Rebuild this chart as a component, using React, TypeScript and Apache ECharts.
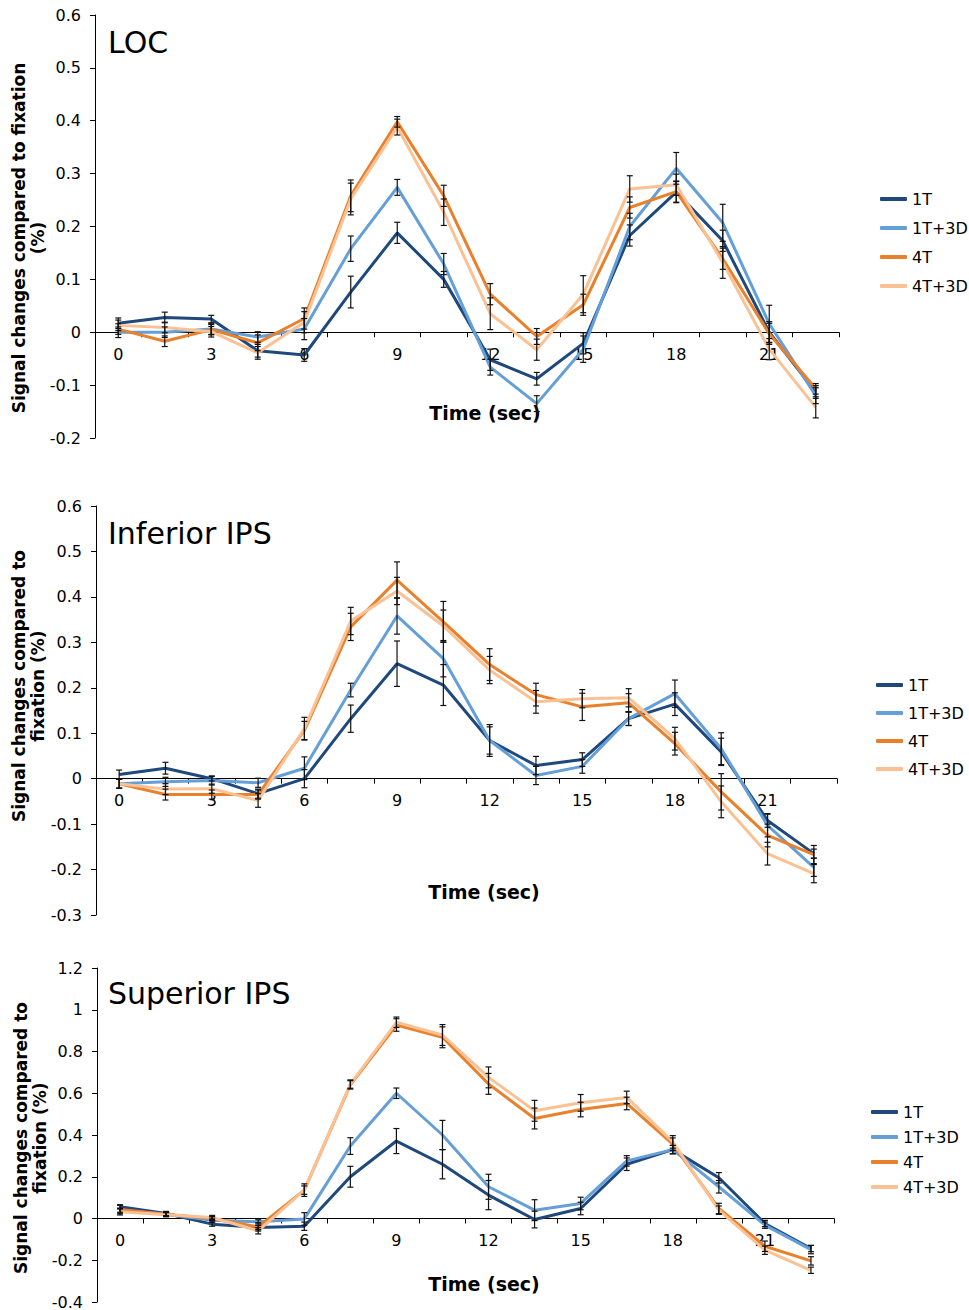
import React, { useEffect, useRef } from "react";
import * as echarts from "echarts";

const times = ["0", "1.5", "3", "4.5", "6", "7.5", "9", "10.5", "12", "13.5", "15", "16.5", "18", "19.5", "21", "22.5"];
const seriesNames = ["1T", "1T+3D", "4T", "4T+3D"];
const colors = ["#1F497D", "#659FD7", "#E9802C", "#FAC294"];
const panelTitles = ["LOC", "Inferior IPS", "Superior IPS"];
const yNames = [
  "Signal changes compared to fixation\n(%)",
  "Signal changes compared to\nfixation (%)",
  "Signal changes compared to\nfixation (%)",
];
const xName = "Time (sec)";

// LOC
const loc1T = [0.017, 0.028, 0.025, -0.035, -0.043, 0.076, 0.188, 0.1, -0.052, -0.088, -0.021, 0.183, 0.265, 0.173, 0.0, -0.113];
const loc1T3D = [0.0, 0.0, 0.006, -0.009, 0.006, 0.158, 0.274, 0.129, -0.066, -0.135, -0.032, 0.2, 0.31, 0.207, 0.016, -0.12];
const loc4T = [0.006, -0.017, 0.005, -0.02, 0.026, 0.258, 0.398, 0.258, 0.072, -0.008, 0.052, 0.236, 0.266, 0.139, -0.003, -0.107];
const loc4T3D = [0.013, 0.009, 0.001, -0.039, 0.019, 0.252, 0.388, 0.227, 0.035, -0.033, 0.072, 0.271, 0.279, 0.132, -0.032, -0.142];
const locErr1T = [0.01, 0.01, 0.007, 0.012, 0.012, 0.03, 0.02, 0.015, 0.02, 0.012, 0.02, 0.02, 0.02, 0.02, 0.02, 0.012];
const locErr1T3D = [0.01, 0.01, 0.01, 0.01, 0.02, 0.024, 0.015, 0.02, 0.015, 0.015, 0.025, 0.025, 0.03, 0.035, 0.035, 0.015];
const locErr4T = [0.01, 0.01, 0.01, 0.015, 0.02, 0.03, 0.01, 0.02, 0.02, 0.015, 0.02, 0.02, 0.02, 0.02, 0.02, 0.01];
const locErr4T3D = [0.01, 0.01, 0.01, 0.012, 0.02, 0.03, 0.015, 0.025, 0.03, 0.02, 0.035, 0.025, 0.02, 0.03, 0.02, 0.02];

// Inferior IPS
const inf1T = [0.009, 0.023, 0.0, -0.033, 0.0, 0.132, 0.253, 0.206, 0.084, 0.029, 0.042, 0.132, 0.164, 0.059, -0.092, -0.165];
const inf1T3D = [-0.011, -0.007, -0.004, -0.009, 0.023, 0.195, 0.358, 0.264, 0.084, 0.007, 0.027, 0.132, 0.187, 0.066, -0.103, -0.195];
const inf4T = [-0.011, -0.035, -0.035, -0.035, 0.106, 0.334, 0.437, 0.345, 0.251, 0.185, 0.158, 0.167, 0.077, -0.029, -0.125, -0.167];
const inf4T3D = [-0.011, -0.023, -0.022, -0.048, 0.11, 0.347, 0.413, 0.336, 0.239, 0.169, 0.176, 0.178, 0.088, -0.051, -0.165, -0.209];
const infErr1T = [0.01, 0.013, 0.005, 0.01, 0.02, 0.03, 0.05, 0.045, 0.035, 0.02, 0.015, 0.015, 0.025, 0.03, 0.015, 0.01];
const infErr1T3D = [0.01, 0.01, 0.01, 0.01, 0.025, 0.015, 0.04, 0.04, 0.03, 0.02, 0.015, 0.015, 0.03, 0.035, 0.025, 0.02];
const infErr4T = [0.01, 0.012, 0.01, 0.01, 0.02, 0.03, 0.04, 0.045, 0.035, 0.025, 0.03, 0.02, 0.025, 0.04, 0.025, 0.02];
const infErr4T3D = [0.01, 0.012, 0.01, 0.015, 0.025, 0.03, 0.03, 0.035, 0.03, 0.025, 0.02, 0.02, 0.025, 0.035, 0.025, 0.02];

// Superior IPS
const sup1T = [0.056, 0.024, -0.027, -0.043, -0.037, 0.2, 0.371, 0.26, 0.112, -0.005, 0.048, 0.26, 0.33, 0.195, -0.024, -0.144];
const sup1T3D = [0.04, 0.02, -0.008, -0.016, -0.002, 0.347, 0.6, 0.4, 0.152, 0.04, 0.072, 0.276, 0.33, 0.152, -0.032, -0.149];
const sup4T = [0.043, 0.02, 0.0, -0.04, 0.136, 0.64, 0.927, 0.868, 0.645, 0.479, 0.522, 0.551, 0.356, 0.048, -0.133, -0.203];
const sup4T3D = [0.032, 0.018, 0.005, -0.059, 0.136, 0.644, 0.94, 0.879, 0.676, 0.516, 0.554, 0.58, 0.367, 0.04, -0.152, -0.248];
const supErr1T = [0.01, 0.01, 0.01, 0.01, 0.02, 0.05, 0.06, 0.07, 0.07, 0.04, 0.03, 0.03, 0.02, 0.025, 0.015, 0.015];
const supErr1T3D = [0.01, 0.01, 0.01, 0.01, 0.03, 0.04, 0.025, 0.07, 0.06, 0.05, 0.03, 0.025, 0.02, 0.03, 0.015, 0.02];
const supErr4T = [0.02, 0.01, 0.01, 0.02, 0.02, 0.02, 0.03, 0.05, 0.05, 0.05, 0.035, 0.03, 0.03, 0.025, 0.025, 0.02];
const supErr4T3D = [0.015, 0.01, 0.01, 0.015, 0.03, 0.02, 0.025, 0.05, 0.05, 0.05, 0.04, 0.03, 0.03, 0.02, 0.02, 0.015];

const yRanges = [
  { min: -0.2, max: 0.6, interval: 0.1 },
  { min: -0.3, max: 0.6, interval: 0.1 },
  { min: -0.4, max: 1.2, interval: 0.2 },
];

const panelValues = [
  [loc1T, loc1T3D, loc4T, loc4T3D],
  [inf1T, inf1T3D, inf4T, inf4T3D],
  [sup1T, sup1T3D, sup4T, sup4T3D],
];
const panelErrors = [
  [locErr1T, locErr1T3D, locErr4T, locErr4T3D],
  [infErr1T, infErr1T3D, infErr4T, infErr4T3D],
  [supErr1T, supErr1T3D, supErr4T, supErr4T3D],
];

const FONT = '"DejaVu Sans", Verdana, sans-serif';

const grids = [
  { left: 95, top: 15, width: 744, height: 423 },
  { left: 96, top: 506, width: 741, height: 409 },
  { left: 97, top: 968, width: 737, height: 334 },
];
const legendPos = [
  { left: 875, top: 186, itemGap: 13 },
  { left: 871, top: 672, itemGap: 12 },
  { left: 866, top: 1099, itemGap: 9 },
];
const titlePos = [
  { x: 108, y: 42 },
  { x: 108, y: 533 },
  { x: 108, y: 993 },
];
const xNamePos = [
  { x: 485, y: 413 },
  { x: 484, y: 892 },
  { x: 484, y: 1284 },
];
const yNamePos = [
  { x: 28, y: 238 },
  { x: 28, y: 686 },
  { x: 30, y: 1138 },
];

function errorRender(params: any, api: any) {
  const i = api.value(0);
  const lo = api.coord([i, api.value(1)]);
  const hi = api.coord([i, api.value(2)]);
  const w = 3;
  const style = { stroke: "#111", lineWidth: 1.2 };
  return {
    type: "group",
    children: [
      { type: "line", shape: { x1: lo[0], y1: lo[1], x2: hi[0], y2: hi[1] }, style },
      { type: "line", shape: { x1: lo[0] - w, y1: lo[1], x2: lo[0] + w, y2: lo[1] }, style },
      { type: "line", shape: { x1: hi[0] - w, y1: hi[1], x2: hi[0] + w, y2: hi[1] }, style },
    ],
  };
}

export default function App() {
  const ref = useRef<HTMLDivElement>(null);
  useEffect(() => {
    document.body.style.margin = "0";
    if (!ref.current) return;
    const chart = echarts.init(ref.current, undefined, { renderer: "svg" });

    const xAxis: any[] = [];
    const yAxis: any[] = [];
    const series: any[] = [];
    const legend: any[] = [];
    const graphic: any[] = [];

    for (let p = 0; p < 3; p++) {
      const r = yRanges[p];
      // place the category axis (line, ticks and labels) at y = 0
      const zeroOffset = -grids[p].height * (0 - r.min) / (r.max - r.min);
      xAxis.push({
        type: "category",
        gridIndex: p,
        position: "bottom",
        offset: zeroOffset,
        data: times,
        boundaryGap: true,
        axisLine: { onZero: false, lineStyle: { color: "#000", width: 1 } },
        axisTick: { show: true, interval: 0, length: 5, lineStyle: { color: "#000" } },
        axisLabel: { interval: 1, color: "#000", fontSize: 16, fontFamily: FONT, margin: 14 },
        splitLine: { show: false },
      });
      yAxis.push({
        type: "value",
        gridIndex: p,
        min: r.min,
        max: r.max,
        interval: r.interval,
        axisLine: { show: true, onZero: false, lineStyle: { color: "#000", width: 1 } },
        axisTick: { show: true, length: 5, lineStyle: { color: "#000" } },
        axisLabel: { color: "#000", fontSize: 16, fontFamily: FONT, margin: 14 },
        splitLine: { show: false },
      });
      for (let s = 0; s < 4; s++) {
        series.push({
          type: "line",
          name: seriesNames[s],
          xAxisIndex: p,
          yAxisIndex: p,
          data: panelValues[p][s],
          symbol: "none",
          showSymbol: false,
          lineStyle: { color: colors[s], width: 3 },
          itemStyle: { color: colors[s] },
          z: 2,
        });
      }
      for (let s = 0; s < 4; s++) {
        const vals = panelValues[p][s];
        const errs = panelErrors[p][s];
        series.push({
          type: "custom",
          name: "err-" + p + "-" + s,
          xAxisIndex: p,
          yAxisIndex: p,
          renderItem: errorRender,
          encode: { x: 0, y: [1, 2] },
          data: vals.map((v, i) => [i, v - errs[i], v + errs[i]]),
          z: 5,
          silent: true,
        });
      }
      legend.push({
        data: seriesNames,
        orient: "vertical",
        left: legendPos[p].left,
        top: legendPos[p].top,
        itemGap: legendPos[p].itemGap,
        itemWidth: 27,
        itemHeight: 4,
        icon: "roundRect",
        textStyle: { color: "#000", fontSize: 16, fontFamily: FONT },
        selectedMode: false,
      });
      graphic.push({
        type: "text",
        x: titlePos[p].x,
        y: titlePos[p].y,
        style: { text: panelTitles[p], font: "30px " + FONT, fill: "#000", textVerticalAlign: "middle" },
      });
      graphic.push({
        type: "text",
        x: xNamePos[p].x,
        y: xNamePos[p].y,
        style: { text: xName, font: "bold 19px " + FONT, fill: "#000", textAlign: "center", textVerticalAlign: "middle" },
      });
      graphic.push({
        type: "text",
        x: yNamePos[p].x,
        y: yNamePos[p].y,
        rotation: Math.PI / 2,
        style: {
          text: yNames[p],
          font: "bold 17px " + FONT,
          fill: "#000",
          textAlign: "center",
          textVerticalAlign: "middle",
          lineHeight: 19,
        },
      });
    }

    chart.setOption({
      animation: false,
      backgroundColor: "#fff",
      grid: grids,
      xAxis,
      yAxis,
      series,
      legend,
      graphic,
    });
    return () => chart.dispose();
  }, []);
  return <div ref={ref} style={{ width: 969, height: 1310 }} />;
}
